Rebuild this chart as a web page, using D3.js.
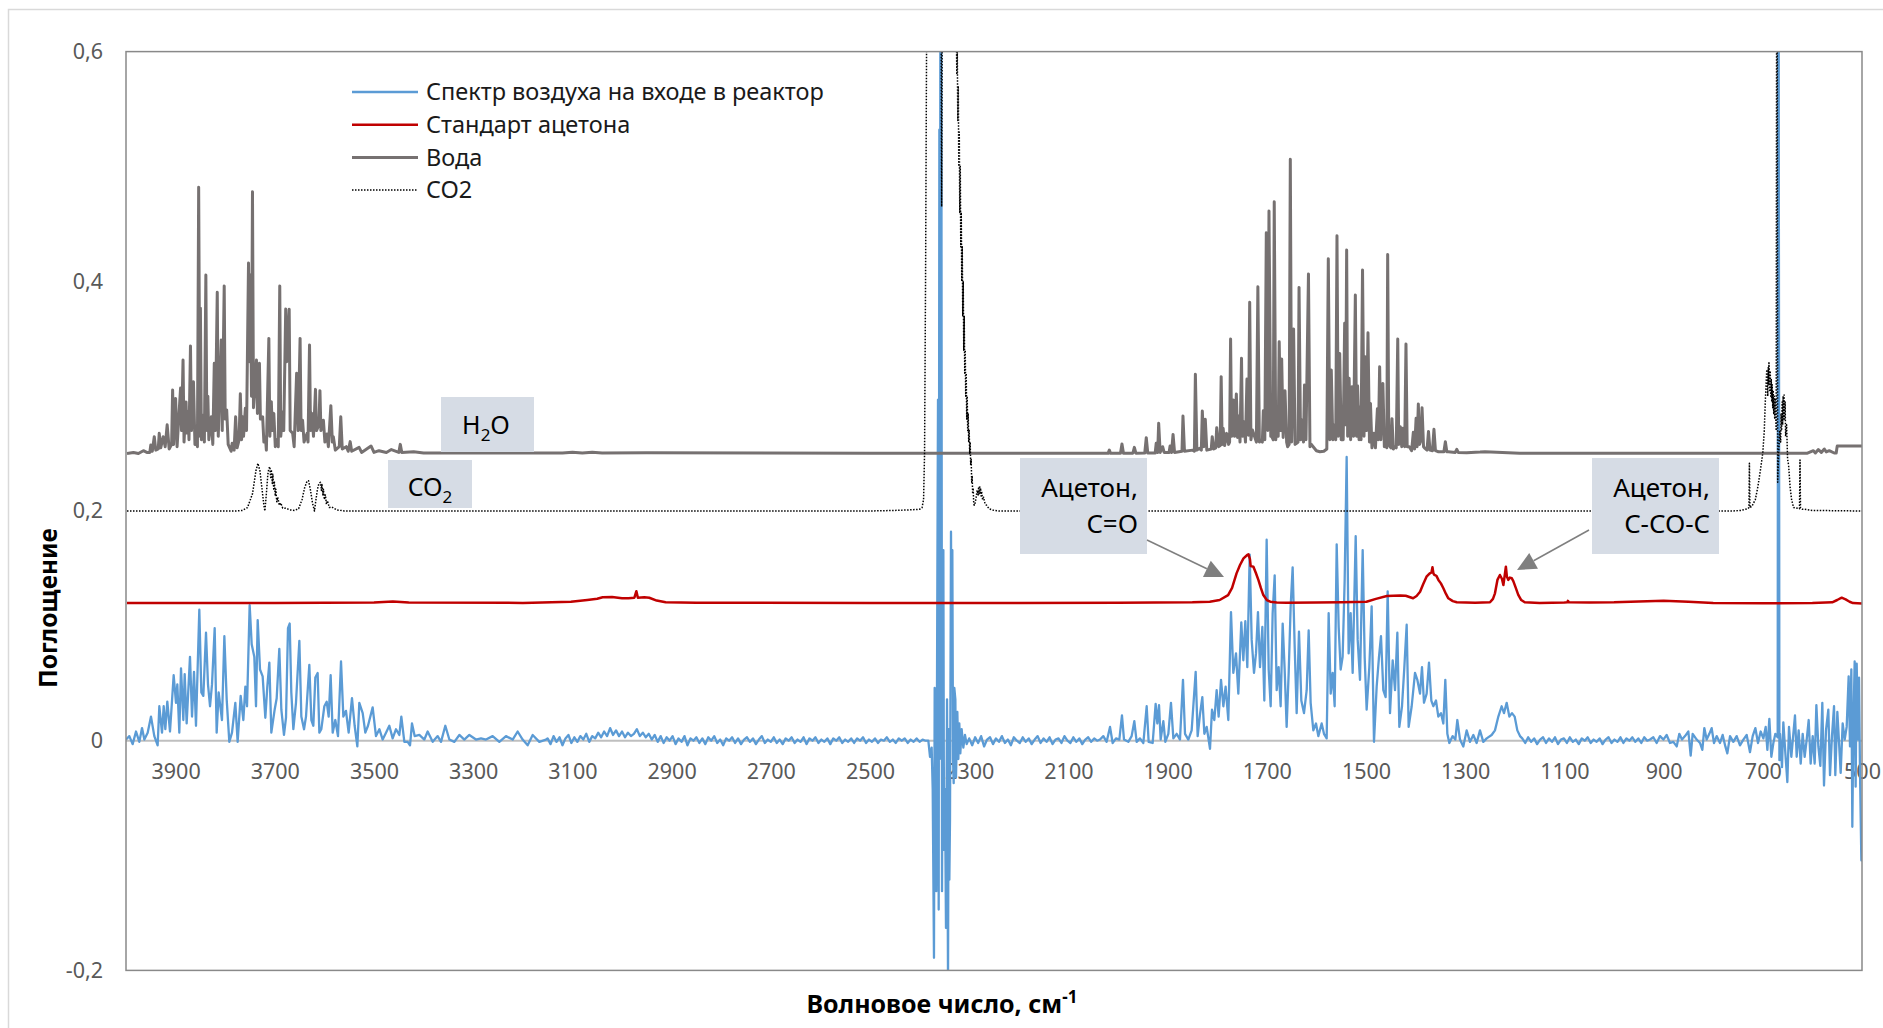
<!DOCTYPE html>
<html>
<head>
<meta charset="utf-8">
<script src="https://cdn.jsdelivr.net/npm/d3@7"></script>
<style>
  body { margin: 0; background: #fff; }
  text { font-family: "Noto Sans", "Open Sans", sans-serif; }
</style>
</head>
<body>
<svg id="chart" width="1883" height="1028"></svg>
<script>
// ---- data: [wavenumber, absorbance] ----
var xTicks = [3900, 3700, 3500, 3300, 3100, 2900, 2700, 2500, 2300, 2100, 1900, 1700, 1500, 1300, 1100, 900, 700, 500];
var yTicks = [-0.2, 0, 0.2, 0.4, 0.6];

var seriesNames = ["Спектр воздуха на входе в реактор", "Стандарт ацетона", "Вода", "CO2"];

// air spectrum, OH stretch water band
var airBandOH = [[4000,.001],[3993.3,.004],[3986.6,-.003],[3979.8,.008],[3973.1,-.001],[3967.7,.011],[3963,.001],[3956.3,.007],[3949.6,.021],[3942.9,.004],[3936.2,-.004],[3932.8,.030],[3927.4,.007],[3924,.030],[3920.7,.010],[3916.7,.034],[3911.3,.008],[3903.9,.057],[3899.2,.033],[3896.5,.049],[3892.5,.007],[3889.1,.063],[3884.4,.018],[3881.7,.058],[3877.7,.015],[3871,.073],[3866.9,.021],[3862.9,.060],[3858.9,.013],[3852.2,.114],[3848.1,.042],[3844.1,.039],[3838.7,.094],[3834.7,.049],[3830.6,.030],[3826.6,.049],[3821.2,.098],[3817.2,.007],[3813.2,.042],[3806.5,.018],[3801.7,.091],[3797,.036],[3791.7,-.001],[3786.3,.007],[3779.6,.033],[3774.9,-.001],[3768.8,.039],[3763.4,.018],[3759.4,.047],[3756,.030],[3750.7,.118],[3746.6,.084],[3741.3,.073],[3737.9,.030],[3734.5,.105],[3729.8,.062],[3724.5,.056],[3719.1,.020],[3715.1,.047],[3711,.068],[3707,.007],[3700.3,.027],[3696.2,.037],[3690.9,.080],[3686.8,.027],[3681.5,.005],[3677.4,.020],[3673.4,.098],[3670,.102],[3666.7,.042],[3662.6,.010],[3657.3,.033],[3650.5,.087],[3646.5,.021],[3641.1,.010],[3637.1,.021],[3630.4,.066],[3626.3,.018],[3622.3,.013],[3618.3,.055],[3613.6,.059],[3610.2,.007],[3606.2,.010],[3600.1,.030],[3595.4,.034],[3591.4,.021],[3587.4,.057],[3583.3,.007],[3578,.018],[3572.6,.004],[3566.5,.069],[3561.8,.021],[3556.5,.026],[3551.1,.007],[3544.4,.037],[3539,.013],[3533.6,-.005],[3529.6,.033],[3522.8,.024],[3517.5,.007],[3512.1,.013],[3502.7,.029],[3496,.004],[3489.2,.010],[3482.5,.001],[3475.8,.007],[3469.1,.013],[3462.4,.002],[3455.6,.010],[3448.9,.005],[3444.9,.021],[3438.8,-.001],[3432.1,-.001],[3427.4,-.004],[3423.4,.015],[3418,.004],[3408.6,.005],[3398.5,.001],[3391.8,.008],[3381.7,-.001],[3371.6,.004],[3364.9,-.001],[3356.2,.013],[3348.1,.001],[3338,-.001],[3327.9,.005],[3317.9,.001],[3307.8,.005],[3294.4,.001],[3284.3,.002],[3274.2,.001],[3260.8,.004],[3247.3,-.001],[3233.9,.004],[3220.4,.001],[3210.4,.008],[3200.3,.001],[3190.2,-.004],[3180.1,.005],[3166.7,-.001],[3153.2,.001]];

// air spectrum, flat stretch 3150..2388 (every 6 cm-1)
var airNoiseA = { start: 3150, step: -6, values: [.002,-.003,.004,-.001,.003,-.004,.002,.005,-.002,.003,-.001,.004,.001,.006,-.001,.004,.002,.007,.003,.008,.004,.011,.005,.009,.004,.008,.003,.007,.004,.006,.010,.004,.007,.003,.006,.001,.005,-.001,.004,-.002,.003,.000,.004,-.003,.002,-.001,.004,-.004,.002,.000,.003,-.002,.002,-.003,.003,.000,.004,-.002,.001,-.004,.002,.000,.003,-.002,.002,-.003,.001,.003,-.001,.002,-.003,.001,.004,-.002,.001,-.001,.003,-.002,.001,-.003,.002,.000,.003,-.002,.001,-.001,.003,-.003,.002,.000,.003,-.002,.001,-.001,.002,-.003,.002,.000,.003,-.002,.001,-.001,.002,-.002,.002,.000,.003,-.002,.001,-.001,.002,-.002,.001,.000,.003,-.001,.001,-.002,.002,.000,.002,-.002,.001,-.001,.002,-.001,.001,.000] };

// air spectrum, CO2 stretch region
var airBandCO2 = [[2382.4,.000],[2379,-.014],[2375.7,-.006],[2373.6,-.042],[2371,-.189],[2369.6,.046],[2367.6,-.016],[2366.3,-.131],[2364.2,.140],[2362.9,.297],[2361.5,-.147],[2360.2,.532],[2359.5,-.016],[2358.2,.62],[2356.8,.088],[2356.2,.65],[2354.8,-.131],[2353.5,.036],[2352.1,.166],[2350.8,-.095],[2348.8,-.042],[2346.8,-.163],[2344.7,.036],[2342.7,-.215],[2341.4,.010],[2340,-.121],[2338.7,-.069],[2336.7,.182],[2335.3,.062],[2334,.166],[2332.6,-.016],[2331.3,-.037],[2330,.046],[2327.9,.036],[2326.6,-.032],[2323.9,.025],[2321.9,-.016],[2319.9,.015],[2317.9,-.011],[2315.2,.010],[2311.8,-.006],[2308.5,.005],[2305.1,-.003]];

// air spectrum, flat stretch 2300..2042
var airNoiseB = { start: 2300, step: -6, values: [.002,-.004,.003,-.002,.004,-.005,.001,.003,-.003,.002,-.001,.004,-.002,.001,-.004,.003,.000,-.002,.003,-.001,.002,-.003,.001,.004,-.002,.002,-.001,.003,-.003,.001,.002,-.002,.004,.000,-.002,.003,-.001,.002,-.003,.001,.003,-.001,.002,.000] };

// air spectrum, water bending band and acetone region
var airBandHOH = [[2036.3,.001],[2029.6,.004],[2022.9,-.001],[2016.1,.012],[2010.8,-.002],[2004,.002],[1997.3,.001],[1992,.022],[1987.9,.001],[1979.2,-.001],[1972.5,.004],[1967.1,.017],[1962.4,-.001],[1955.7,.002],[1948.9,-.002],[1942.2,.030],[1938.2,-.001],[1930.1,-.002],[1924.1,.032],[1920.7,.015],[1917.3,.031],[1914,.001],[1908.6,.017],[1904.6,-.001],[1898.5,.006],[1893.2,.033],[1888.4,.002],[1881.7,.006],[1875,.001],[1869,.053],[1864.9,.006],[1858.2,.001],[1851.5,.009],[1843.4,.060],[1839.4,.004],[1834.7,.023],[1830,.038],[1825.9,.006],[1821.2,.012],[1814.5,-.007],[1810.5,.027],[1805.8,.018],[1801.1,.044],[1797.1,.021],[1792.3,.053],[1787.6,.030],[1783,.047],[1777.6,.018],[1772.2,.112],[1767.5,.059],[1762.1,.076],[1757.4,.041],[1751.4,.103],[1747.3,.070],[1743.3,.104],[1739.3,.064],[1734.5,.162],[1730.5,.088],[1725.8,.059],[1721.8,.076],[1717.8,.112],[1713.7,.064],[1709,.099],[1705,.035],[1700.3,.175],[1696.2,.062],[1692.2,.030],[1688.2,.111],[1684.1,.144],[1680.1,.044],[1676.1,.064],[1672.1,.030],[1668,.102],[1664,.062],[1660,.012],[1655.9,.059],[1651.9,.117],[1647.9,.151],[1643.8,.082],[1639.8,.024],[1635.1,.095],[1630.4,.035],[1625,.024],[1619.6,.044],[1615.6,.096],[1611.6,.033],[1606.2,.009],[1600.8,.015],[1596.1,.004],[1589.4,.015],[1584.7,.006],[1579.3,.002],[1575.3,.111],[1571.2,.041],[1567.2,.059],[1563.2,.030],[1559.1,.171],[1555.1,.099],[1551.1,.062],[1547.1,.073],[1543,.140],[1539,.247],[1535,.076],[1530.9,.111],[1526.9,.059],[1520.8,.178],[1516.8,.088],[1512.1,.053],[1506.7,.166],[1502.7,.073],[1498.7,.027],[1493.3,.064],[1488.6,.117],[1483.9,-.001],[1478.5,.047],[1473.8,.073],[1469.8,.091],[1465.1,.044],[1460.4,.038],[1456.3,.130],[1451.6,.024],[1446.2,.070],[1441.5,.044],[1436.8,.094],[1432.8,.012],[1427.4,.030],[1422.7,.064],[1418,.101],[1414,.012],[1407.9,.030],[1401.2,.059],[1396.5,.053],[1391.1,.041],[1387.1,.064],[1383.1,.033],[1377.7,.041],[1373,.068],[1368.3,.035],[1364.3,.030],[1358.9,.035],[1354.2,.021],[1348.8,.024],[1344.1,.015],[1340.1,.053],[1336,.006],[1332,-.002],[1325.3,.004],[1319.9,.001],[1315.9,.018],[1310.5,.001],[1303.8,-.005],[1297.1,.009],[1290.3,-.001],[1283.6,.005],[1276.9,-.002],[1270.2,.009],[1263.5,-.001],[1256.7,.002],[1246.7,.005],[1240,.009],[1233.2,.021],[1226.5,.030],[1221.8,.024],[1216.4,.033],[1211,.021],[1205.7,.024],[1200.3,.021],[1194.9,.009],[1189.5,.004]];

// air spectrum, flat stretch 1185..933
var airNoiseC = { start: 1185, step: -6, values: [.002,-.002,.003,-.001,.002,-.003,.001,.003,-.002,.002,-.001,.003,-.003,.001,.002,-.002,.003,-.001,.001,-.003,.002,.000,.003,-.002,.001,-.001,.002,-.003,.001,.003,-.002,.001,-.001,.003,-.002,.002,.000,.003,-.001,.002,-.002,.003,.000] };

// air spectrum, low-wavenumber tail with CO2 bending line
var airTail = [[927.4,.001],[920.7,.003],[914,-.002],[907.2,.004],[900.5,.001],[893.8,.005],[887.1,-.002],[880.4,-.001],[873.6,-.005],[868.3,.006],[862.9,.001],[856.8,.004],[850.1,.008],[845.4,-.013],[841.4,.006],[833.3,.001],[826.6,-.002],[821.9,-.008],[817.9,.011],[813.2,.001],[807.8,.006],[803.1,.011],[798.4,-.002],[793,.004],[786.3,-.002],[780.9,.005],[775.5,-.005],[771.5,-.011],[766.1,.004],[759.4,-.001],[752.7,.004],[746,-.004],[739.2,.001],[732.5,.005],[725.8,-.010],[720.4,.004],[715,.011],[709.7,-.002],[704.3,.008],[698.9,.002],[694.2,.012],[690.8,-.008],[686.8,.019],[682.8,-.014],[678.7,-.002],[674.7,.006],[670,.003],[669,.65],[668,.65],[666.5,-.017],[665.3,.006],[661.3,-.023],[658.6,.016],[654.5,-.011],[650.5,-.036],[647.2,.012],[642.5,-.014],[638.4,.006],[635.1,.022],[631.7,-.014],[627.7,.009],[623.6,-.020],[619.6,.006],[615.6,-.014],[611.5,.001],[607.5,.018],[603.5,-.020],[599.4,.004],[595.4,-.020],[592,.031],[588,-.005],[584,-.022],[580,.033],[576.6,-.039],[572.6,.009],[567.9,.027],[564.5,-.030],[560.5,.004],[556.4,.030],[553.8,-.030],[549.7,.025],[547,.004],[543,-.028],[539,.015],[534.9,.001],[530.9,.012],[526.9,.056],[524.2,-.005],[521.5,.062],[519.5,-.075],[517.4,.012],[514.8,.069],[512.8,-.040],[510.7,.067],[508,.001],[506,.055],[504,-.028],[501.3,-.104],[500,-.105]];

// acetone standard
var acetone = [[3998,.1198],[3700,.1198],[3500,.1203],[3462,.1212],[3430,.1203],[3200,.12],[3103,.121],[3070,.1225],[3050,.1236],[3039,.1249],[3020,.1251],[3000,.124],[2987,.124],[2975,.1245],[2971,.1302],[2968,.1245],[2955,.1248],[2945,.1245],[2930,.122],[2912,.1205],[2850,.1201],[2500,.12],[2200,.12],[2000,.1202],[1850,.1205],[1815,.121],[1795,.1225],[1778,.1268],[1770,.133],[1761,.1457],[1754,.153],[1747,.1588],[1740,.1615],[1737,.1622],[1734,.158],[1732.5,.152],[1727,.1515],[1722,.146],[1717,.14],[1712,.133],[1707,.1268],[1700,.1225],[1693,.121],[1680,.1204],[1660,.1202],[1600,.1203],[1550,.1205],[1499,.121],[1480,.1235],[1458,.126],[1445,.1263],[1431,.1265],[1420,.1262],[1405,.124],[1398,.126],[1391,.1297],[1385,.136],[1378,.1428],[1372,.1455],[1368,.1465],[1366,.151],[1364,.1455],[1362,.1443],[1358,.1435],[1354,.14],[1349,.137],[1344,.1327],[1339,.128],[1334,.124],[1325,.1215],[1317,.1205],[1280,.1202],[1250,.1205],[1244,.1235],[1240,.1283],[1235,.14],[1230,.1443],[1226,.141],[1223,.1356],[1220,.145],[1218,.1515],[1216,.143],[1213,.14],[1210,.142],[1206,.1414],[1203,.139],[1198,.133],[1193,.127],[1187,.1225],[1180,.1205],[1150,.12],[1100,.1203],[1094,.1205],[1093,.1218],[1091,.1205],[1050,.1203],[1000,.1205],[950,.1212],[900,.1218],[850,.121],[800,.1198],[700,.1197],[600,.1198],[560,.1205],[550,.1225],[541,.1245],[533,.123],[525,.121],[518,.1198],[500,.1195]];

// water reference
var water = [[3998,.250],[3985,.251],[3975,.250],[3965,.2525],[3958,.251],[3952,.251],[3950,.2575],[3947,.252],[3943,.2647],[3940,.253],[3935,.254],[3933,.2676],[3930,.255],[3925,.2647],[3921,.256],[3917,.275],[3913,.254],[3908,.258],[3906,.3053],[3904,.258],[3900,.298],[3897,.256],[3890,.307],[3888,.27],[3885,.3315],[3883,.26],[3879,.295],[3877,.268],[3875,.2865],[3873,.262],[3870,.3436],[3868,.27],[3864,.3126],[3861,.258],[3858,.2705],[3856,.256],[3853.5,.4818],[3851,.265],[3850,.3765],[3848,.262],[3844,.2836],[3842,.26],[3839,.4055],[3837,.27],[3835,.300],[3833,.262],[3828,.282],[3825,.258],[3822,.3286],[3820,.27],[3816,.3904],[3814,.265],[3808,.3489],[3806,.27],[3802,.396],[3800,.28],[3797,.288],[3794,.258],[3788,.252],[3786,.2589],[3782,.253],[3779,.282],[3776,.255],[3772,.262],[3769.5,.302],[3767,.262],[3765,.282],[3763,.265],[3759.4,.2894],[3757,.27],[3753,.416],[3751,.33],[3749,.4055],[3747,.30],[3745,.478],[3743,.29],[3737,.3315],[3735,.285],[3731,.3286],[3729,.28],[3724.5,.282],[3722,.26],[3719,.2647],[3717,.253],[3712,.3503],[3710,.265],[3707,.2952],[3705,.27],[3702,.285],[3699,.256],[3696,.262],[3693,.256],[3690,.396],[3688,.265],[3684,.2865],[3682,.27],[3678,.3759],[3676,.33],[3671,.3756],[3669,.27],[3664,.2676],[3661,.256],[3656,.320],[3653,.27],[3649,.3503],[3647,.27],[3644,.279],[3641,.26],[3635,.2676],[3633,.26],[3630,.3445],[3628,.27],[3625,.285],[3622,.265],[3618,.3059],[3616,.27],[3611,.275],[3609,.3048],[3607,.27],[3602,.279],[3599,.26],[3595,.267],[3592,.256],[3587,.2917],[3584,.26],[3582,.2647],[3578,.253],[3570,.256],[3567,.2821],[3564,.254],[3556,.256],[3552,.252],[3548,.2604],[3545,.252],[3530,.2554],[3525,.251],[3506,.2566],[3500,.251],[3490,.2525],[3475,.251],[3465,.2535],[3450,.251],[3447,.258],[3444,.251],[3420,.2515],[3400,.2505],[3300,.2505],[3120,.2505],[3100,.2512],[3080,.2505],[3060,.2512],[3040,.2505],[2950,.2508],[2500,.2502],[2040,.2502],[2020,.2502],[2017.5,.253],[2015,.2502],[1995,.2502],[1992,.2583],[1989,.2502],[1970,.2503],[1967,.2554],[1964,.2503],[1946,.2505],[1943,.2638],[1940,.2505],[1925,.2505],[1923,.2589],[1920,.251],[1918,.2763],[1915,.251],[1910,.256],[1907,.251],[1897,.251],[1895,.2566],[1892,.251],[1889,.2667],[1886,.251],[1871,.252],[1869,.2827],[1866,.252],[1849.5,.253],[1846,.252],[1844,.319],[1841,.253],[1836,.2545],[1832,.253],[1830,.287],[1827,.256],[1824,.2798],[1821,.253],[1812,.254],[1810,.2647],[1807,.254],[1803,.255],[1801,.2725],[1797,.256],[1794,.257],[1792,.317],[1790,.258],[1788,.272],[1785,.257],[1781,.2676],[1777,.258],[1775,.26],[1773,.3497],[1771,.265],[1767.5,.2966],[1765,.265],[1761.4,.3018],[1759,.264],[1757,.2827],[1754,.26],[1751,.3329],[1749,.265],[1746,.2777],[1743,.26],[1740,.3149],[1737,.266],[1734.5,.3817],[1732,.262],[1729,.2705],[1721,.26],[1718,.3953],[1715,.26],[1712.4,.2618],[1709,.26],[1707,.2873],[1704,.262],[1701,.4423],[1698,.27],[1695.6,.4612],[1692,.265],[1690,.2647],[1687,.262],[1685,.4693],[1682,.262],[1680,.2705],[1677,.265],[1675,.3474],[1672,.27],[1670,.3323],[1667,.264],[1663.3,.3047],[1660,.26],[1658,.256],[1655,.258],[1652.6,.5062],[1650,.26],[1646,.3584],[1643,.258],[1640,.2589],[1637,.26],[1635,.3947],[1632,.262],[1629,.2792],[1626,.26],[1624,.3097],[1621,.262],[1616,.4063],[1613,.256],[1611,.2583],[1600,.2525],[1593,.2516],[1585,.252],[1579,.254],[1576,.4197],[1573,.262],[1570,.3227],[1567,.262],[1564,.2748],[1561,.262],[1558.5,.4397],[1556,.265],[1553,.3372],[1550,.262],[1548,.2763],[1546,.262],[1543,.3634],[1541,.275],[1539,.4272],[1537,.265],[1534,.3155],[1531,.262],[1528,.3082],[1525,.265],[1521.5,.388],[1519,.265],[1517,.3091],[1514,.262],[1512,.2908],[1510,.262],[1507,.4098],[1504,.265],[1501.4,.3343],[1499,.27],[1496,.3552],[1493,.26],[1491,.2937],[1488,.255],[1484,.2676],[1481,.255],[1477,.289],[1475,.262],[1472.5,.3256],[1470,.262],[1466,.3111],[1463,.256],[1460,.2618],[1458,.255],[1456.3,.4234],[1454,.258],[1450,.255],[1447.6,.2804],[1445,.254],[1441.5,.256],[1439,.255],[1436,.3497],[1434,.258],[1430.8,.2734],[1428,.256],[1425.4,.272],[1422,.256],[1419.4,.3454],[1417,.256],[1412.6,.256],[1408,.2525],[1404.6,.2685],[1402,.254],[1399,.2807],[1397,.256],[1394.5,.2931],[1392,.258],[1389,.262],[1387,.2899],[1384,.256],[1381,.2545],[1377,.253],[1374,.2693],[1371,.253],[1366,.2525],[1363,.2711],[1360,.2525],[1354,.2516],[1343,.2515],[1340,.2603],[1337,.2515],[1334,.2516],[1320,.251],[1317,.2537],[1314,.251],[1297,.2508],[1270,.2513],[1260,.2516],[1190,.2503],[1100,.2502],[700,.2502],[610,.2503],[598,.2525],[594,.2505],[588,.2535],[582,.251],[576,.254],[572,.2515],[566,.2525],[556,.2505],[552,.2505],[550,.2565],[500,.2565]];

// CO2 reference
var co2 = [[3998,.2],[3780,.2],[3765,.2005],[3755,.203],[3745,.215],[3738,.235],[3734,.2415],[3730,.235],[3726,.22],[3722,.205],[3720,.2],[3717,.215],[3714,.232],[3712,.237],[3710,.2386],[3708,.228],[3707,.236],[3705,.224],[3704,.232],[3702,.218],[3701,.226],[3699,.213],[3698,.219],[3696,.208],[3694,.212],[3691,.205],[3688,.207],[3684,.2025],[3678,.2025],[3670,.201],[3660,.2005],[3652,.202],[3645,.21],[3640,.22],[3635,.226],[3632,.2264],[3628,.218],[3624,.207],[3620,.2],[3617,.21],[3614,.219],[3611,.224],[3608,.225],[3606,.218],[3605,.223],[3603,.214],[3602,.219],[3600,.21],[3598,.214],[3596,.206],[3594,.209],[3590,.203],[3585,.2035],[3575,.201],[3560,.2],[2500,.2],[2450,.2005],[2420,.201],[2400,.2015],[2395,.203],[2392,.21],[2390,.25],[2388,.4],[2386,.6],[2384,.7],[2357,.7],[2355.5,.465],[2354,.7],[2330,.7],[2326,.62],[2325,.58],[2324,.6],[2323,.54],[2322,.57],[2321,.5],[2320,.53],[2319,.46],[2318,.5],[2317,.43],[2316,.46],[2315,.4],[2314,.43],[2313,.37],[2312,.4],[2311,.34],[2310,.37],[2309,.32],[2308,.34],[2307,.3],[2306,.32],[2305,.28],[2304,.3],[2303,.27],[2302,.285],[2301,.26],[2300,.27],[2299,.25],[2298,.26],[2297,.24],[2296,.245],[2295,.225],[2294,.23],[2293,.215],[2292,.22],[2291,.208],[2290,.205],[2288,.207],[2286,.212],[2284,.218],[2282,.214],[2281,.221],[2280,.215],[2279,.222],[2278,.216],[2277,.22],[2276,.213],[2275,.217],[2273,.21],[2271,.212],[2268,.206],[2265,.205],[2260,.202],[2250,.2005],[2240,.2],[760,.2],[745,.2005],[735,.2015],[730,.202],[728,.203],[727,.2415],[726,.203],[722,.204],[715,.21],[710,.221],[705,.235],[700,.2505],[697,.27],[695,.295],[692,.323],[690,.3],[689,.325],[688,.31],[687.6,.329],[686,.305],[685,.322],[684,.3],[683,.315],[682,.295],[681,.31],[680,.29],[679,.305],[678,.285],[677,.3],[676,.28],[675,.297],[673,.27],[672,.7],[671,.7],[670,.225],[668,.25],[666,.27],[664,.26],[663,.285],[662,.27],[661,.295],[660,.275],[659,.3],[658,.28],[657,.301],[656,.28],[655,.295],[654,.265],[652,.275],[650,.245],[648,.24],[645,.221],[642,.21],[638,.203],[626,.202],[625,.2445],[624,.2025],[620,.2015],[616,.2015],[600,.2005],[500,.2]];

// ---- build ----
function expand(seg) {
  return seg.values.map(function(v, i) { return [seg.start + i * seg.step, v]; });
}
var airSpectrum = [].concat(airBandOH, expand(airNoiseA), airBandCO2, expand(airNoiseB), airBandHOH, expand(airNoiseC), airTail);

var svg = d3.select("#chart");
var width = +svg.attr("width");
var height = +svg.attr("height");
var plot = { left: 126, right: 1862, top: 51.6, bottom: 970.4 };

var x = d3.scaleLinear().domain([4000, 500]).range([plot.left, plot.right]);
var y = d3.scaleLinear().domain([-0.2, 0.6]).range([plot.bottom, plot.top]);

svg.append("rect").attr("width", width).attr("height", height).attr("fill", "#fff");
// chart area border
svg.append("rect")
  .attr("x", 8.5).attr("y", 9.5).attr("width", width + 20).attr("height", height + 20)
  .attr("fill", "none").attr("stroke", "#d9d9d9").attr("stroke-width", 1.5);

svg.append("clipPath").attr("id", "plotClip")
  .append("rect")
  .attr("x", plot.left).attr("y", plot.top)
  .attr("width", plot.right - plot.left).attr("height", plot.bottom - plot.top);

// horizontal axis line at zero
svg.append("line")
  .attr("x1", plot.left).attr("x2", plot.right)
  .attr("y1", y(0)).attr("y2", y(0))
  .attr("stroke", "#bfbfbf").attr("stroke-width", 2);

function fmt(d) { return d === 0 ? "0" : String(d).replace(".", ","); }

var xAxis = svg.append("g")
  .attr("transform", "translate(0," + y(0) + ")")
  .call(d3.axisBottom(x).tickValues(xTicks).tickSize(0).tickFormat(d3.format("d")));
xAxis.select(".domain").remove();
xAxis.selectAll("text")
  .attr("y", 31).attr("dy", "0.35em")
  .style("font-size", "21.5px").attr("fill", "#595959");

var yAxis = svg.append("g")
  .attr("transform", "translate(" + plot.left + ",0)")
  .call(d3.axisLeft(y).tickValues(yTicks).tickSize(0).tickPadding(23).tickFormat(fmt));
yAxis.select(".domain").remove();
yAxis.selectAll("text").style("font-size", "21.5px").attr("fill", "#595959");

var line = d3.line().x(function(d) { return x(d[0]); }).y(function(d) { return y(d[1]); });

var styles = [
  { data: airSpectrum, color: "#5b9bd5", width: 2.3, dash: null },
  { data: acetone, color: "#c00000", width: 2.5, dash: null },
  { data: water, color: "#767171", width: 3, dash: null },
  { data: co2, color: "#000000", width: 1.5, dash: "1.5,1.5" }
];

var lines = svg.append("g").attr("clip-path", "url(#plotClip)");
styles.forEach(function(s) {
  lines.append("path")
    .datum(s.data)
    .attr("d", line)
    .attr("fill", "none")
    .attr("stroke", s.color)
    .attr("stroke-width", s.width)
    .attr("stroke-linejoin", "round")
    .attr("stroke-dasharray", s.dash);
});

// plot area border
svg.append("rect")
  .attr("x", plot.left).attr("y", plot.top)
  .attr("width", plot.right - plot.left).attr("height", plot.bottom - plot.top)
  .attr("fill", "none").attr("stroke", "#898989").attr("stroke-width", 1.5);

// legend
var legend = svg.append("g");
seriesNames.forEach(function(name, i) {
  var ly = 92 + i * 32.7;
  legend.append("line")
    .attr("x1", 352).attr("x2", 418).attr("y1", ly).attr("y2", ly)
    .attr("stroke", styles[i].color)
    .attr("stroke-width", styles[i].width)
    .attr("stroke-dasharray", styles[i].dash);
  legend.append("text")
    .attr("x", 426).attr("y", ly).attr("dy", "0.35em")
    .style("font-size", "23.5px").attr("fill", "#1a1a1a")
    .text(name);
});

// annotation boxes
var boxFill = "#d6dce5";
function box(x0, y0, w, h) {
  svg.append("rect").attr("x", x0).attr("y", y0).attr("width", w).attr("height", h).attr("fill", boxFill);
}
function formula(cx, cy, a, sub, b) {
  var t = svg.append("text").attr("x", cx).attr("y", cy).attr("dy", "0.35em")
    .attr("text-anchor", "middle").style("font-size", "25px").attr("fill", "#000");
  t.append("tspan").text(a);
  t.append("tspan").attr("dy", 7).style("font-size", "17px").text(sub);
  t.append("tspan").attr("dy", -7).text(b);
}
box(441, 397, 93, 55);
formula(486, 425, "H", "2", "O");
box(388, 460, 84, 48);
formula(430, 487, "CO", "2", "");

function label(x1, lines) {
  box(x1 - 127, 458, 127, 96);
  lines.forEach(function(s, i) {
    svg.append("text").attr("x", x1 - 9).attr("y", 488 + i * 36).attr("dy", "0.35em")
      .attr("text-anchor", "end").style("font-size", "26px").attr("fill", "#000").text(s);
  });
}
label(1147, ["Ацетон,", "C=O"]);
label(1719, ["Ацетон,", "C-CO-C"]);

function arrow(x1, y1, x2, y2) {
  var dx = x2 - x1, dy = y2 - y1, len = Math.sqrt(dx * dx + dy * dy);
  var ux = dx / len, uy = dy / len, hl = 19, hw = 9;
  var bx = x2 - ux * hl, by = y2 - uy * hl;
  svg.append("line").attr("x1", x1).attr("y1", y1).attr("x2", bx).attr("y2", by)
    .attr("stroke", "#7f7f7f").attr("stroke-width", 1.5);
  svg.append("path")
    .attr("d", "M" + x2 + "," + y2 + "L" + (bx - uy * hw) + "," + (by + ux * hw) + "L" + (bx + uy * hw) + "," + (by - ux * hw) + "Z")
    .attr("fill", "#7f7f7f");
}
arrow(1147, 540, 1224, 577);
arrow(1589, 530, 1517, 570);

// axis titles
svg.append("text")
  .attr("transform", "translate(48,608) rotate(-90)")
  .attr("text-anchor", "middle").attr("dy", "0.35em")
  .style("font-size", "24.5px").style("font-weight", "bold").attr("fill", "#000")
  .text("Поглощение");

var xt = svg.append("text")
  .attr("x", 942).attr("y", 1013)
  .attr("text-anchor", "middle")
  .style("font-size", "25px").style("font-weight", "bold").attr("fill", "#000");
xt.append("tspan").text("Волновое число, см");
xt.append("tspan").attr("dy", -10).style("font-size", "17px").text("-1");
</script>
</body>
</html>
